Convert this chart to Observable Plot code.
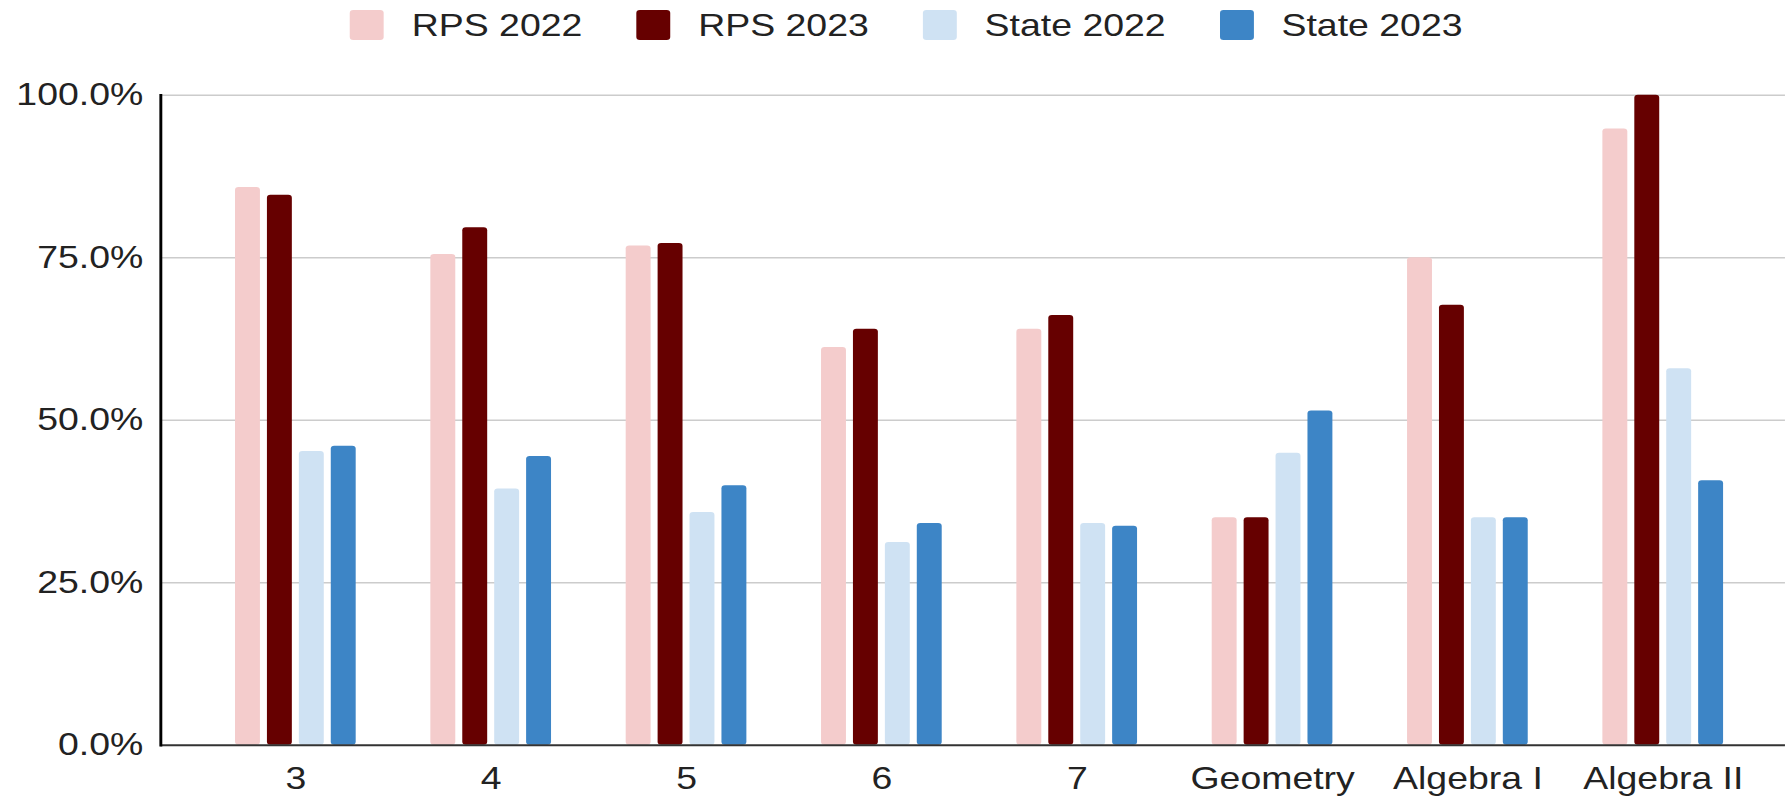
<!DOCTYPE html>
<html>
<head>
<meta charset="utf-8">
<script src="https://cdn.jsdelivr.net/npm/d3@7"></script>
<script src="https://cdn.jsdelivr.net/npm/@observablehq/plot@0.6"></script>
<style>
  html, body { margin: 0; padding: 0; background: #fff; overflow: hidden; }
  #wrap { width: 1526px; transform: scaleX(1.1697); transform-origin: 0 0; font-family: "Liberation Sans", Arial, sans-serif; }
  #legend { height: 50px; display: flex; align-items: center; padding-left: 299px; box-sizing: border-box; }
  .item { display: flex; align-items: center; margin-right: 46px; }
  .sw { width: 29px; height: 30px; border-radius: 3px; margin-right: 24px; }
  .lab { font-size: 32px; line-height: 32px; color: #222; white-space: nowrap; }
  #chart svg { display: block; }
</style>
</head>
<body>
<div id="wrap">
  <div id="legend"></div>
  <div id="chart"></div>
</div>
<script>
// ---- data ----
const categories = ["3", "4", "5", "6", "7", "Geometry", "Algebra I", "Algebra II"];
const seriesNames = ["RPS 2022", "RPS 2023", "State 2022", "State 2023"];
const rps2022   = [85.8, 75.5, 76.8, 61.2, 64.0, 35.0, 75.0, 94.8];
const rps2023   = [84.6, 79.6, 77.2, 64.0, 66.1, 35.0, 67.7, 100.0];
const state2022 = [45.2, 39.4, 35.8, 31.2, 34.1, 44.9, 35.0, 57.9];
const state2023 = [46.0, 44.4, 39.9, 34.1, 33.7, 51.4, 35.0, 40.7];
const yTicks = [0, 0.25, 0.5, 0.75, 1];
const colors = ["#f4cccc", "#660000", "#cfe2f3", "#3d85c6"];

const seriesValues = [rps2022, rps2023, state2022, state2023];
const rows = [];
seriesNames.forEach((s, k) => {
  categories.forEach((c, i) => rows.push({category: c, series: s, k, value: seriesValues[k][i] / 100}));
});

// ---- legend ----
const legend = document.getElementById("legend");
seriesNames.forEach((s, k) => {
  const it = document.createElement("div");
  it.className = "item";
  const sw = document.createElement("div");
  sw.className = "sw";
  sw.style.background = colors[k];
  const lab = document.createElement("span");
  lab.className = "lab";
  lab.textContent = s;
  it.appendChild(sw); it.appendChild(lab);
  legend.appendChild(it);
});

// ---- layout ----
const width = 1526, height = 747;
const marginLeft = 137, marginRight = 0, marginTop = 44.7, marginBottom = 52.3;
const paddingInner = 0.321, paddingOuter = 0.2945, align = 0.557;
const step = (width - marginLeft - marginRight) / (categories.length - paddingInner + 2 * paddingOuter);
const bw = step * (1 - paddingInner);
const q = 0.18;                  // gap fraction between bars in a group
const s = bw / (seriesNames.length + q);

const barMarks = seriesNames.map((name, k) =>
  Plot.barY(rows.filter(d => d.k === k), {
    x: "category", y: "value", fill: "series",
    insetLeft: s * q + k * s,
    insetRight: bw - s * (k + 1),
    rx: 3
  })
);

const chart = Plot.plot({
  width, height, marginLeft, marginRight, marginTop, marginBottom,
  style: {fontSize: "32px", fontFamily: "'Liberation Sans', Arial, sans-serif", color: "#222", background: "#fff", overflow: "hidden"},
  x: {domain: categories, paddingInner, paddingOuter, align},
  y: {domain: [0, 1]},
  color: {domain: seriesNames, range: colors},
  marks: [
    Plot.ruleY(yTicks.slice(1), {stroke: "#cccccc", strokeWidth: 1.5}),
    ...barMarks,
    Plot.ruleY([0], {stroke: "#333", strokeWidth: 2}),
    Plot.frame({anchor: "left", stroke: "#000", strokeWidth: 2.5}),
    Plot.axisY({ticks: yTicks, tickFormat: d3.format(".1%"), tickSize: 0, tickPadding: 15, label: null, fill: "#222"}),
    Plot.axisX({anchor: "bottom", tickSize: 0, tickPadding: 21, label: null, fill: "#222"})
  ]
});
document.getElementById("chart").appendChild(chart);
</script>
</body>
</html>
